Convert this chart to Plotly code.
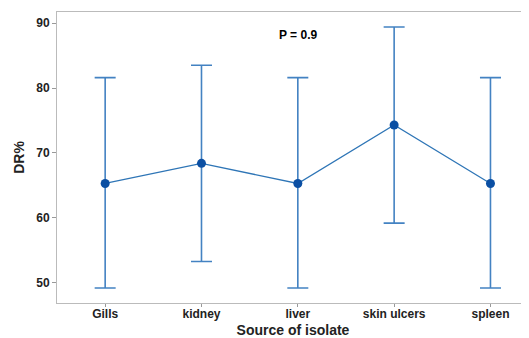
import plotly.graph_objects as go

categories = ["Gills", "kidney", "liver", "skin ulcers", "spleen"]
means = [65.3, 68.4, 65.3, 74.3, 65.3]
upper = [81.6, 83.5, 81.6, 89.4, 81.6]
lower = [49.2, 53.3, 49.2, 59.2, 49.2]
y_ticks = [50, 60, 70, 80, 90]

x_idx = list(range(len(categories)))
err_plus = [u - m for u, m in zip(upper, means)]
err_minus = [m - l for m, l in zip(means, lower)]

fig = go.Figure()
fig.add_trace(go.Scatter(
    x=x_idx, y=means, mode="lines+markers",
    line=dict(color="#2E75B6", width=1.3),
    marker=dict(color="#0B4FA3", size=9),
    error_y=dict(type="data", symmetric=False, array=err_plus, arrayminus=err_minus,
                 color="#4382C2", thickness=1.6, width=10.5),
    showlegend=False,
))

fig.add_annotation(x=2, y=88.2, text="<b>P = 0.9</b>", showarrow=False,
                   font=dict(family="Liberation Sans, Arial", size=12, color="black"))

# page body has an 8px margin, so the figure is sized to fill the window from (8, 8)
fig.update_layout(
    width=521, height=330,
    margin=dict(l=49, r=0, t=4, b=35),
    paper_bgcolor="white", plot_bgcolor="white",
    font=dict(family="Liberation Sans, Arial", color="#222"),
)
fig.update_xaxes(
    range=[-0.5, 4.4], tickvals=x_idx,
    ticktext=["<b>%s</b>" % c for c in categories],
    tickfont=dict(size=12, color="#222"),
    ticks="outside", ticklen=3, tickcolor="#999",
    ticklabelstandoff=-3,
    showline=True, linecolor="#BBBBBB", linewidth=1, mirror=True,
    showgrid=False, zeroline=False,
    title=dict(text="<b>Source of isolate</b>", font=dict(size=14, color="#222"), standoff=4),
)
fig.update_yaxes(
    range=[46.9, 91.7], tickvals=y_ticks,
    ticktext=["<b>%d</b>" % t for t in y_ticks],
    tickfont=dict(size=12, color="#222"),
    ticks="outside", ticklen=4, tickcolor="#999",
    showline=True, linecolor="#BBBBBB", linewidth=1, mirror=False,
    showgrid=False, zeroline=False,
    title=dict(text="<b>DR%</b>", font=dict(size=14, color="#222"), standoff=8),
)

fig.write_html("out.html")
